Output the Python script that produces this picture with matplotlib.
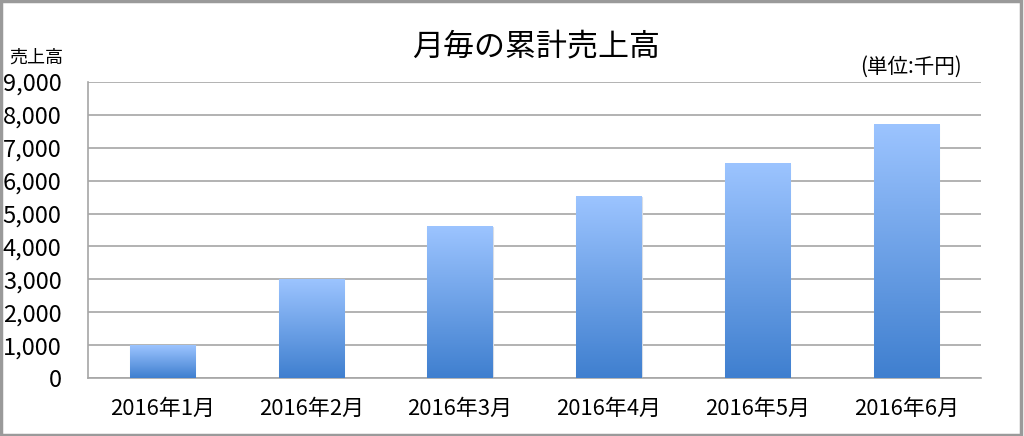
import matplotlib.pyplot as plt
import numpy as np
from matplotlib.colors import LinearSegmentedColormap
from matplotlib.patches import Rectangle

plt.rcParams['font.family'] = ['Noto Sans CJK JP', 'DejaVu Sans']

# === データ ===
months = ["2016年1月", "2016年2月", "2016年3月", "2016年4月", "2016年5月", "2016年6月"]
sales = [1000, 3000, 4600, 5500, 6500, 7700]
yticks = [0, 1000, 2000, 3000, 4000, 5000, 6000, 7000, 8000, 9000]

fig = plt.figure(figsize=(10.24, 4.36), dpi=100)
ax = fig.add_axes([88 / 1024, 1 - 378.3 / 436, (981 - 88) / 1024, (378.3 - 81.7) / 436])

# グラデーションの棒
cmap = LinearSegmentedColormap.from_list("bar", ["#3f7fcf", "#9cc4ff"])
grad = np.linspace(0, 1, 256).reshape(-1, 1)
width = 0.44
x = np.arange(len(months))
for xi, v in zip(x, sales):
    ax.imshow(grad, extent=[xi - width / 2, xi + width / 2, 0, v], origin="lower",
              aspect="auto", cmap=cmap, zorder=3)
    ax.add_patch(Rectangle((xi - width / 2, 0), width, v, fill=False,
                           edgecolor="#d8dde6", linewidth=0.8, zorder=2))

ax.set_xlim(-0.5, len(months) - 0.5)
ax.set_ylim(0, 9000)
ax.set_xticks(x)
ax.set_xticklabels(months, fontsize=15.8)
ax.set_yticks(yticks)
ax.set_yticklabels([f"{t:,}" for t in yticks], fontsize=17)
ax.tick_params(length=0)
ax.tick_params(axis="y", pad=19)
ax.tick_params(axis="x", pad=14)
ax.grid(axis="y", color="#a6a6a6", linewidth=1.2, zorder=1)
ax.set_axisbelow(True)
for s in ["top", "right"]:
    ax.spines[s].set_visible(False)
for s in ["left", "bottom"]:
    ax.spines[s].set_color("#a6a6a6")
    ax.spines[s].set_linewidth(1.2)

fig.text(536 / 1024, 1 - 48 / 436, "月毎の累計売上高", fontsize=22.3, ha="center", va="center")
fig.text(36 / 1024, 1 - 58 / 436, "売上高", fontsize=13, ha="center", va="center")
fig.text(911 / 1024, 1 - 67 / 436, "(単位:千円)", fontsize=14.8, ha="center", va="center")

# 外枠
fig.patches.append(Rectangle((0.001, 0.002), 0.996, 0.995, transform=fig.transFigure,
                             fill=False, edgecolor="#9a9a9a", linewidth=2.5))

fig.savefig("out.png", dpi=100)
